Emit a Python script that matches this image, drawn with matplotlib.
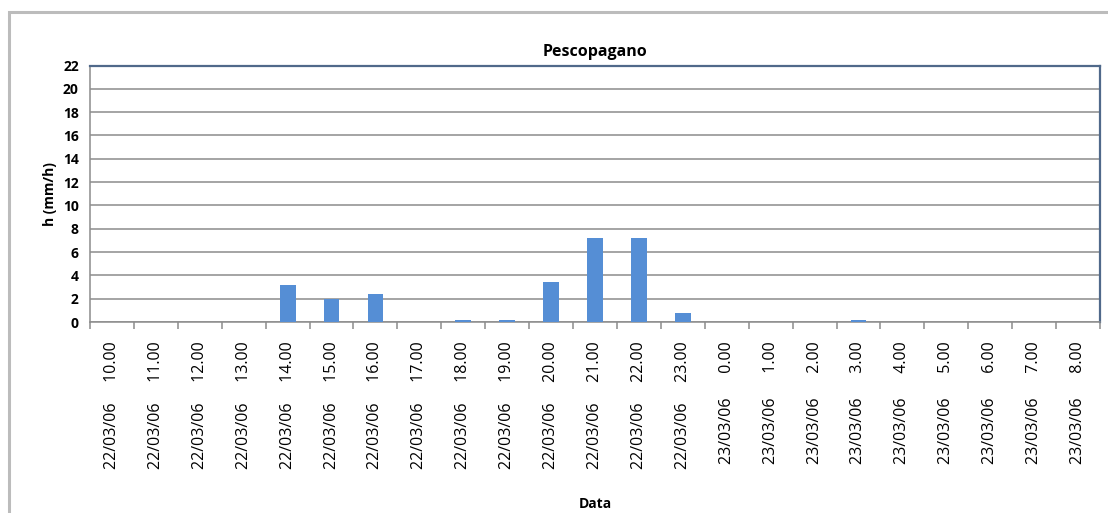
import matplotlib.pyplot as plt
import numpy as np
from matplotlib.patches import Rectangle

dates = ['22/03/06'] * 14 + ['23/03/06'] * 9
hours = ['10.00', '11.00', '12.00', '13.00', '14.00', '15.00', '16.00', '17.00',
         '18.00', '19.00', '20.00', '21.00', '22.00', '23.00', '0.00', '1.00',
         '2.00', '3.00', '4.00', '5.00', '6.00', '7.00', '8.00']
rain = [0, 0, 0, 0, 3.2, 2.0, 2.4, 0, 0.2, 0.2, 3.4, 7.2, 7.2, 0.8, 0, 0,
        0, 0.2, 0, 0, 0, 0, 0]

plt.rcParams['font.family'] = ['Open Sans', 'DejaVu Sans']

fig = plt.figure(figsize=(11.08, 5.13), dpi=100)
# outer chart border
fig.patches.append(Rectangle((9/1108, -0.1), 1.2, 1 - 12/513 + 0.1, transform=fig.transFigure,
                             fill=False, edgecolor='#bcbcbc', linewidth=2.2))

ax = fig.add_axes([90/1108, 1 - 322/513, 1010/1108, 256.5/513])
x = np.arange(len(rain))
ax.bar(x, rain, width=0.36, color='#558ed5', zorder=3)

ax.set_xlim(-0.5, len(rain) - 0.5)
ax.set_ylim(0, 22)
ax.set_yticks(np.arange(0, 23, 2))
ax.yaxis.grid(True, color='#8c8c8c', linewidth=1.1)
ax.set_axisbelow(True)

labels = []
for d, h in zip(dates, hours):
    labels.append(d + '     ' + h.rjust(5))
ax.set_xticks(x)
ax.set_xticklabels(labels, rotation=90, fontsize=11.5)
ax.set_xticks(np.arange(-0.5, len(rain)), minor=True)
ax.tick_params(axis='x', which='major', length=0, pad=14)
ax.tick_params(axis='x', which='minor', length=5, color='#8c8c8c', width=1.1)
ax.tick_params(axis='y', length=0, labelsize=10, pad=8)
for lab in ax.get_yticklabels():
    lab.set_fontweight('bold')

for s in ['top', 'right']:
    ax.spines[s].set_color('#50698a')
    ax.spines[s].set_linewidth(1.6)
ax.spines['left'].set_color('#8c8c8c')
ax.spines['left'].set_linewidth(1.1)
ax.spines['bottom'].set_color('#8c8c8c')
ax.spines['bottom'].set_linewidth(1.1)

ax.set_title('Pescopagano', fontsize=11.5, fontweight='bold', pad=7)
ax.set_ylabel('h (mm/h)', fontsize=10, fontweight='bold', labelpad=4)
ax.set_xlabel('Data', fontsize=10, fontweight='bold', labelpad=20)

fig.savefig('out.png', dpi=100)
